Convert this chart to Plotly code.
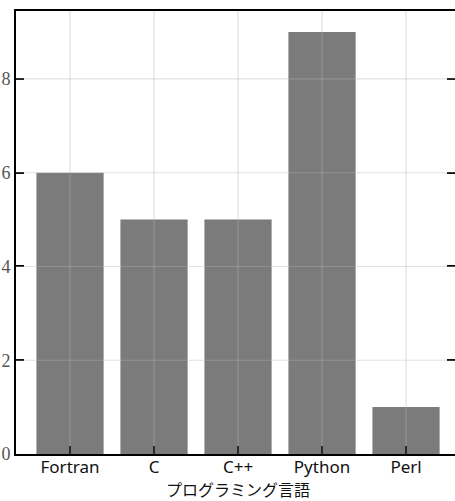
import plotly.graph_objects as go

languages = ["Fortran", "C", "C++", "Python", "Perl"]
counts = [6, 5, 5, 9, 1]
y_ticks = [0, 2, 4, 6, 8]
x_title = "プログラミング言語"

fig = go.Figure()
fig.add_trace(go.Bar(
    x=list(range(len(languages))), y=counts, width=0.8,
    marker=dict(color="#7b7b7b", line=dict(width=0)),
))

grid_color = "rgba(180,180,180,0.4)"
shapes = []
for i in range(len(languages)):
    shapes.append(dict(type="line", xref="x", yref="paper", x0=i, x1=i, y0=0, y1=1,
                       line=dict(color=grid_color, width=1.2), layer="above"))
for v in y_ticks[1:]:
    shapes.append(dict(type="line", xref="paper", yref="y", x0=0, x1=1, y0=v, y1=v,
                       line=dict(color=grid_color, width=1.2), layer="above"))

fig.update_layout(
    width=455, height=501, autosize=False,
    margin=dict(l=16, r=0, t=11, b=47),
    paper_bgcolor="white", plot_bgcolor="white",
    showlegend=False, shapes=shapes,
    annotations=[dict(text=x_title, xref="paper", yref="paper", x=0.505, y=0,
                      yshift=-35, xanchor="center", yanchor="middle", showarrow=False,
                      font=dict(family="Noto Sans CJK JP, sans-serif", size=16, color="#111"))],
    xaxis=dict(
        range=[-0.643, 4.583], tickmode="array",
        tickvals=list(range(len(languages))), ticktext=languages,
        showgrid=False, zeroline=False, automargin=False,
        showline=True, linecolor="black", linewidth=2, mirror=True,
        ticks="inside", ticklen=8, tickwidth=1.5, tickcolor="black",
        tickfont=dict(family="Noto Sans, Liberation Sans, sans-serif", size=17, color="#111"),
        ticklabelstandoff=-3,
    ),
    yaxis=dict(
        range=[0, 9.45], tickmode="array", tickvals=y_ticks,
        showgrid=False, zeroline=False, automargin=False,
        showline=True, linecolor="black", linewidth=2, mirror="ticks",
        ticks="inside", ticklen=8, tickwidth=1.5, tickcolor="black",
        tickfont=dict(family="Liberation Serif, DejaVu Serif, serif", size=18, color="#555"),
        ticklabelstandoff=0,
    ),
)

fig.write_html(
    "out.html",
    config={"responsive": False, "displayModeBar": False},
    post_script="document.body.style.margin='0';document.body.style.overflow='hidden';",
)
